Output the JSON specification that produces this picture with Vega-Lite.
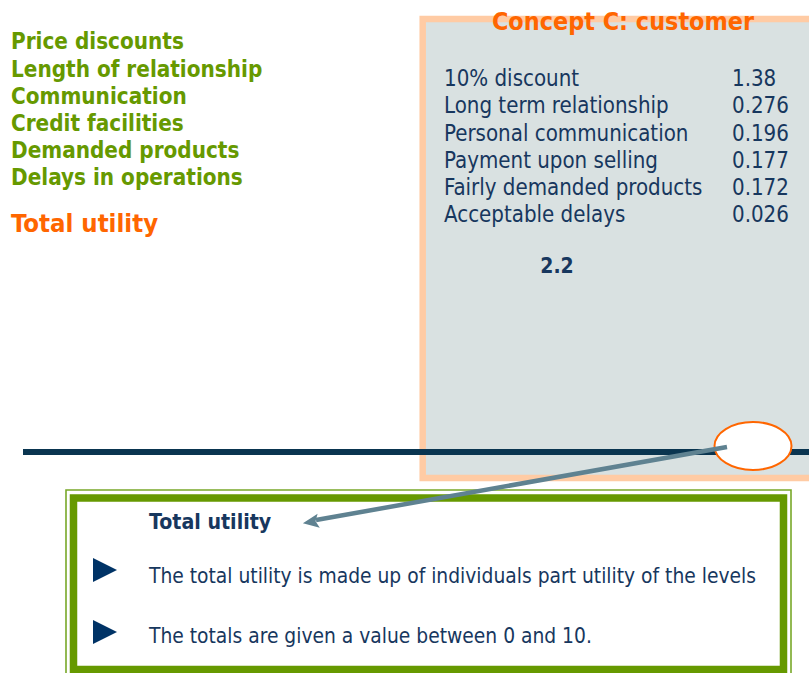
{
  "$schema": "https://vega.github.io/schema/vega-lite/v6.json",
  "width": 809,
  "height": 673,
  "padding": 0,
  "autosize": {"type": "none"},
  "background": "white",
  "config": {"view": {"stroke": null}, "font": "DejaVu Sans Condensed"},
  "datasets": {
    "panel": [{"x": 422.7, "x2": 830, "y": 19, "y2": 478}],
    "divider": [{"x": 23, "x2": 809, "y": 452}],
    "noteOuter": [{"x": 66, "x2": 791, "y": 490, "y2": 700}],
    "noteInner": [{"x": 73.5, "x2": 783.5, "y": 498, "y2": 669.5}],
    "highlight": [{"x": 753, "y": 446}],
    "pointer": [{"x": 727, "y": 447, "x2": 316, "y2": 520}],
    "pointerHead": [{"x": 310.8, "y": 522}],
    "bullets": [{"x": 105, "y": 570}, {"x": 105, "y": 632}],
    "attributes": [
      {"attribute": "Price discounts", "x": 11, "y": 49},
      {"attribute": "Length of relationship", "x": 11, "y": 77},
      {"attribute": "Communication", "x": 11, "y": 104},
      {"attribute": "Credit facilities", "x": 11, "y": 131},
      {"attribute": "Demanded products", "x": 11, "y": 158},
      {"attribute": "Delays in operations", "x": 11, "y": 185}
    ],
    "totalLeft": [{"text": "Total utility", "x": 11, "y": 232}],
    "title": [{"text": "Concept C: customer", "x": 623, "y": 30}],
    "levels": [
      {"level": "10% discount", "utility": "1.38", "x": 444, "xv": 732, "y": 86},
      {"level": "Long term relationship", "utility": "0.276", "x": 444, "xv": 732, "y": 113},
      {"level": "Personal communication", "utility": "0.196", "x": 444, "xv": 732, "y": 141},
      {"level": "Payment upon selling", "utility": "0.177", "x": 444, "xv": 732, "y": 168},
      {"level": "Fairly demanded products", "utility": "0.172", "x": 444, "xv": 732, "y": 195},
      {"level": "Acceptable delays", "utility": "0.026", "x": 444, "xv": 732, "y": 222}
    ],
    "total": [{"text": "2.2", "x": 557, "y": 273}],
    "noteTitle": [{"text": "Total utility", "x": 149, "y": 529}],
    "noteLines": [
      {"text": "The total utility is made up of individuals part utility of the levels", "x": 149, "y": 583},
      {"text": "The totals are given a value between 0 and 10.", "x": 149, "y": 643}
    ]
  },
  "layer": [
    {
      "data": {"name": "panel"},
      "mark": {"type": "rect", "fill": "#D9E1E1", "stroke": "#FFCBA4", "strokeWidth": 6.5},
      "encoding": {
        "x": {"field": "x", "type": "quantitative", "scale": {"domain": [0, 809], "nice": false, "zero": false}, "axis": null},
        "x2": {"field": "x2"},
        "y": {"field": "y", "type": "quantitative", "scale": {"domain": [673, 0], "nice": false, "zero": false}, "axis": null},
        "y2": {"field": "y2"}
      }
    },
    {
      "data": {"name": "divider"},
      "mark": {"type": "rule", "stroke": "#0A3550", "strokeWidth": 6},
      "encoding": {
        "x": {"field": "x", "type": "quantitative", "axis": null},
        "x2": {"field": "x2"},
        "y": {"field": "y", "type": "quantitative", "axis": null}
      }
    },
    {
      "data": {"name": "noteOuter"},
      "mark": {"type": "rect", "fill": null, "stroke": "#78A828", "strokeWidth": 1.6},
      "encoding": {
        "x": {"field": "x", "type": "quantitative", "axis": null},
        "x2": {"field": "x2"},
        "y": {"field": "y", "type": "quantitative", "axis": null},
        "y2": {"field": "y2"}
      }
    },
    {
      "data": {"name": "noteInner"},
      "mark": {"type": "rect", "fill": "white", "stroke": "#669900", "strokeWidth": 7.5},
      "encoding": {
        "x": {"field": "x", "type": "quantitative", "axis": null},
        "x2": {"field": "x2"},
        "y": {"field": "y", "type": "quantitative", "axis": null},
        "y2": {"field": "y2"}
      }
    },
    {
      "data": {"name": "highlight"},
      "mark": {"type": "point", "filled": true, "fill": "white", "stroke": "#FF6600", "strokeWidth": 2, "opacity": 1, "fillOpacity": 1, "strokeOpacity": 1, "size": 5929, "shape": "M -1 0 A 1 0.623 0 1 1 1 0 A 1 0.623 0 1 1 -1 0 Z"},
      "encoding": {
        "x": {"field": "x", "type": "quantitative", "axis": null},
        "y": {"field": "y", "type": "quantitative", "axis": null}
      }
    },
    {
      "data": {"name": "pointer"},
      "mark": {"type": "rule", "stroke": "#5F8291", "strokeWidth": 4.5},
      "encoding": {
        "x": {"field": "x", "type": "quantitative", "axis": null},
        "x2": {"field": "x2"},
        "y": {"field": "y", "type": "quantitative", "axis": null},
        "y2": {"field": "y2"}
      }
    },
    {
      "data": {"name": "pointerHead"},
      "mark": {"type": "point", "filled": true, "fill": "#5F8291", "opacity": 1, "size": 256, "angle": 171, "shape": "M 1 0 L -1 -0.875 L -0.6 0 L -1 0.875 Z"},
      "encoding": {
        "x": {"field": "x", "type": "quantitative", "axis": null},
        "y": {"field": "y", "type": "quantitative", "axis": null}
      }
    },
    {
      "data": {"name": "bullets"},
      "mark": {"type": "point", "filled": true, "fill": "#003366", "opacity": 1, "size": 576, "shape": "M -1 -1 L 1 0 L -1 1 Z"},
      "encoding": {
        "x": {"field": "x", "type": "quantitative", "axis": null},
        "y": {"field": "y", "type": "quantitative", "axis": null}
      }
    },
    {
      "data": {"name": "attributes"},
      "mark": {"type": "text", "align": "left", "baseline": "alphabetic", "fontWeight": "bold", "fontSize": 22.3, "fill": "#669900"},
      "encoding": {
        "x": {"field": "x", "type": "quantitative", "axis": null},
        "y": {"field": "y", "type": "quantitative", "axis": null},
        "text": {"field": "attribute"}
      }
    },
    {
      "data": {"name": "totalLeft"},
      "mark": {"type": "text", "align": "left", "baseline": "alphabetic", "fontWeight": "bold", "fontSize": 25.5, "fill": "#FF6600"},
      "encoding": {
        "x": {"field": "x", "type": "quantitative", "axis": null},
        "y": {"field": "y", "type": "quantitative", "axis": null},
        "text": {"field": "text"}
      }
    },
    {
      "data": {"name": "title"},
      "mark": {"type": "text", "align": "center", "baseline": "alphabetic", "fontWeight": "bold", "fontSize": 24.9, "fill": "#FF6600"},
      "encoding": {
        "x": {"field": "x", "type": "quantitative", "axis": null},
        "y": {"field": "y", "type": "quantitative", "axis": null},
        "text": {"field": "text"}
      }
    },
    {
      "data": {"name": "levels"},
      "mark": {"type": "text", "align": "left", "baseline": "alphabetic", "fontSize": 22.1, "fill": "#17375E"},
      "encoding": {
        "x": {"field": "x", "type": "quantitative", "axis": null},
        "y": {"field": "y", "type": "quantitative", "axis": null},
        "text": {"field": "level"}
      }
    },
    {
      "data": {"name": "levels"},
      "mark": {"type": "text", "align": "left", "baseline": "alphabetic", "fontSize": 22.1, "fill": "#17375E"},
      "encoding": {
        "x": {"field": "xv", "type": "quantitative", "axis": null},
        "y": {"field": "y", "type": "quantitative", "axis": null},
        "text": {"field": "utility"}
      }
    },
    {
      "data": {"name": "total"},
      "mark": {"type": "text", "align": "center", "baseline": "alphabetic", "fontWeight": "bold", "fontSize": 21, "fill": "#17375E"},
      "encoding": {
        "x": {"field": "x", "type": "quantitative", "axis": null},
        "y": {"field": "y", "type": "quantitative", "axis": null},
        "text": {"field": "text"}
      }
    },
    {
      "data": {"name": "noteTitle"},
      "mark": {"type": "text", "align": "left", "baseline": "alphabetic", "fontWeight": "bold", "fontSize": 21.2, "fill": "#17375E"},
      "encoding": {
        "x": {"field": "x", "type": "quantitative", "axis": null},
        "y": {"field": "y", "type": "quantitative", "axis": null},
        "text": {"field": "text"}
      }
    },
    {
      "data": {"name": "noteLines"},
      "mark": {"type": "text", "align": "left", "baseline": "alphabetic", "fontSize": 20.8, "fill": "#17375E"},
      "encoding": {
        "x": {"field": "x", "type": "quantitative", "axis": null},
        "y": {"field": "y", "type": "quantitative", "axis": null},
        "text": {"field": "text"}
      }
    }
  ]
}
